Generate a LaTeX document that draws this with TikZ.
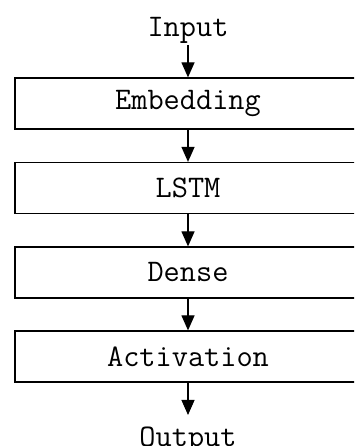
\documentclass[tikz,border=0pt]{standalone}
\usepackage{fontspec}
\usetikzlibrary{arrows.meta}
\begin{document}
\begin{tikzpicture}[x=1pt,y=1pt,
  layer/.style={draw, line width=1.2pt, minimum width=346pt, minimum height=51pt,
    inner sep=0pt, font=\ttfamily\fontsize{31.4}{34}\selectfont},
  label/.style={inner sep=0pt, font=\ttfamily\fontsize{31.4}{34}\selectfont},
  flow/.style={line width=1.2pt, -{Triangle[length=15pt,width=13pt]}}]
  \useasboundingbox (0,0) rectangle (354,446);
  \clip (0,0) rectangle (354,446);
  % input / output labels
  \node[label, anchor=base] (in) at (188,409) {Input};
  \node[label, anchor=base] (out) at (188,-1) {Output};
  \coordinate (instart) at (188,401);
  \coordinate (outtip) at (188,31);
  % layers of the network
  \node[layer] (emb) at (188,342.5) {Embedding};
  \node[layer] (lstm) at (188,258) {LSTM};
  \node[layer] (dense) at (188,173.5) {Dense};
  \node[layer] (act) at (188,89.5) {Activation};
  % data flow
  \draw[flow] (instart) -- (emb);
  \draw[flow] (emb) -- (lstm);
  \draw[flow] (lstm) -- (dense);
  \draw[flow] (dense) -- (act);
  \draw[flow] (act) -- (outtip);
\end{tikzpicture}
\end{document}
